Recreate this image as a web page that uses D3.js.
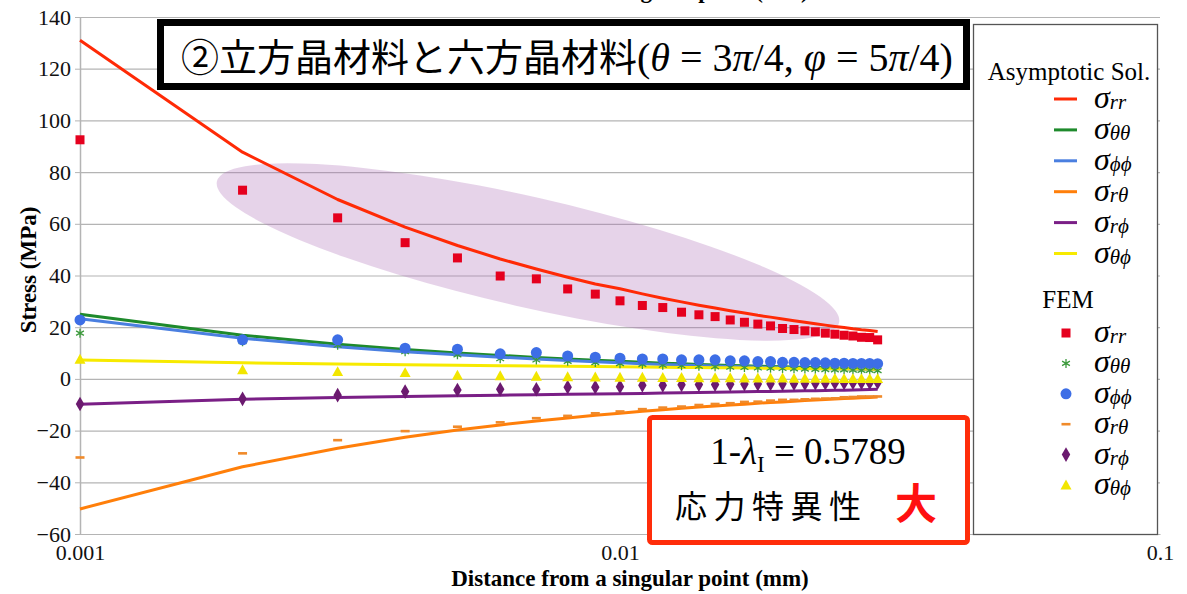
<!DOCTYPE html>
<html>
<head>
<meta charset="utf-8">
<script src="https://cdn.jsdelivr.net/npm/d3@7"></script>
<style>
  html, body { margin: 0; padding: 0; background: #fff; }
  svg { display: block; }
</style>
</head>
<body>
<svg id="chart" width="1187" height="594"></svg>
<script>
// Distance from the singular point (mm)
const distances = [0.001, 0.002, 0.003, 0.004, 0.005, 0.006, 0.007, 0.008, 0.009, 0.010,
                   0.011, 0.012, 0.013, 0.014, 0.015, 0.016, 0.017, 0.018, 0.019, 0.020,
                   0.021, 0.022, 0.023, 0.024, 0.025, 0.026, 0.027, 0.028, 0.029, 0.030];

const yTicks = [-60, -40, -20, 0, 20, 40, 60, 80, 100, 120, 140];
const xTicks = [0.001, 0.01, 0.1];
const xTickLabels = ["0.001", "0.01", "0.1"];

// Asymptotic solution (MPa)
const asymRR = [131, 87.7, 69.4, 58.7, 51.6, 46.4, 42.5, 39.3, 36.7, 34.9, 32.9, 31.2, 29.8, 28.5, 27.4,
                26.4, 25.5, 24.6, 23.9, 23.2, 22.5, 21.9, 21.3, 20.8, 20.3, 19.9, 19.4, 19.0, 18.7, 18.3];
const asymTT = [25.0, 16.9, 13.4, 11.4, 10.0, 9.1, 8.3, 7.7, 7.2, 6.8, 6.4, 6.1, 5.9, 5.6, 5.4,
                5.2, 5.1, 4.9, 4.8, 4.7, 4.6, 4.5, 4.4, 4.3, 4.2, 4.1, 4.1, 4.0, 4.0, 3.9];
const asymPP = [23.3, 15.7, 12.4, 10.5, 9.3, 8.4, 7.7, 7.1, 6.6, 6.2, 5.9, 5.6, 5.4, 5.2, 5.0,
                4.8, 4.7, 4.6, 4.4, 4.3, 4.2, 4.1, 4.0, 3.9, 3.9, 3.8, 3.7, 3.7, 3.6, 3.6];
const asymRT = [-50.3, -34.0, -26.8, -22.6, -19.8, -17.8, -16.3, -15.1, -14.1, -13.3, -12.5, -11.9, -11.4, -10.9, -10.5,
                -10.1, -9.8, -9.4, -9.1, -8.9, -8.6, -8.4, -8.2, -8.0, -7.8, -7.6, -7.5, -7.3, -7.2, -7.0];
const asymRP = [-9.8, -7.9, -7.2, -6.8, -6.5, -6.3, -6.1, -5.9, -5.8, -5.7, -5.6, -5.5, -5.4, -5.3, -5.2,
                -5.1, -5.0, -4.9, -4.9, -4.8, -4.7, -4.6, -4.6, -4.5, -4.4, -4.4, -4.3, -4.2, -4.1, -4.0];
const asymTP = [7.3, 6.2, 5.8, 5.5, 5.3, 5.1, 5.0, 4.9, 4.8, 4.7, 4.6, 4.5, 4.4, 4.4, 4.3,
                4.3, 4.2, 4.2, 4.1, 4.1, 4.0, 4.0, 3.9, 3.9, 3.9, 3.8, 3.8, 3.8, 3.7, 3.7];

// FEM results (MPa)
const femRR = [92.5, 73.0, 62.3, 52.7, 46.8, 39.8, 38.7, 34.8, 32.8, 30.2, 28.4, 27.6, 25.8, 24.8, 24.1,
               22.8, 21.9, 21.2, 20.5, 19.5, 19.1, 18.6, 18.2, 17.7, 17.3, 16.9, 16.6, 16.1, 16.0, 15.1];
const femTT = [17.7, 14.4, 13.0, 10.5, 9.3, 7.8, 7.3, 6.8, 6.3, 5.9, 5.6, 5.3, 5.1, 4.9, 4.7,
               4.5, 4.4, 4.2, 4.1, 4.0, 3.9, 3.8, 3.7, 3.6, 3.5, 3.5, 3.4, 3.3, 3.3, 3.2];
const femPP = [22.8, 15.1, 15.1, 11.9, 11.5, 9.7, 10.2, 8.9, 8.4, 8.0, 7.7, 7.7, 7.4, 7.4, 7.4,
               7.0, 7.0, 6.7, 6.7, 6.4, 6.4, 6.3, 6.3, 6.2, 6.1, 6.1, 6.0, 6.0, 6.0, 5.9];
const femRT = [-30.4, -28.8, -23.7, -20.2, -18.5, -16.8, -15.2, -14.3, -13.3, -12.6, -11.7, -11.1, -10.7, -10.1, -9.7,
               -9.4, -8.9, -8.8, -8.4, -8.1, -8.1, -7.9, -7.7, -7.6, -7.5, -7.1, -7.0, -6.8, -6.8, -6.8];
const femRP = [-9.7, -7.7, -6.3, -4.9, -4.3, -4.0, -4.0, -3.2, -3.2, -3.0, -2.5, -2.5, -2.3, -2.2, -2.2,
               -2.1, -2.0, -2.0, -1.9, -1.9, -1.8, -1.8, -1.7, -1.7, -1.6, -1.6, -1.5, -1.5, -1.5, -1.4];
const femTP = [7.6, 3.5, 2.8, 2.4, 1.4, 1.2, 1.0, 0.8, 0.7, 0.6, 0.6, 0.5, 0.5, 0.4, 0.4,
               0.4, 0.3, 0.3, 0.3, 0.3, 0.2, 0.2, 0.2, 0.2, 0.2, 0.1, 0.1, 0.1, 0.1, 0.1];

const components = ["rr", "θθ", "ϕϕ", "rθ", "rϕ", "θϕ"];
const asymSeries = [asymRR, asymTT, asymPP, asymRT, asymRP, asymTP];
const femSeries = [femRR, femTT, femPP, femRT, femRP, femTP];

const lineColors = ["#ff2a06", "#1e8a2c", "#4a7fe0", "#ff7f0a", "#7a1f86", "#f7ea00"];
const markerColors = ["#e5001e", "#3c9a3c", "#3d6ee6", "#f08a2a", "#6b1a6f", "#f2e600"];
const markerTypes = ["square", "asterisk", "circle", "dash", "diamond", "triangle"];

const SERIF = "'Liberation Serif', 'Times New Roman', serif";
const CJK = "'Noto Sans CJK JP', 'Noto Sans CJK SC', sans-serif";

const svg = d3.select("#chart");

const plot = { left: 80, right: 1160, top: 17, bottom: 534 };

const x = d3.scaleLog().domain([0.001, 0.1]).range([plot.left, plot.right]);
const y = d3.scaleLinear().domain([-60, 140]).range([plot.bottom, plot.top]);

// Clipped heading left over above the plot
svg.append("text")
  .attr("x", 630).attr("y", -2)
  .attr("text-anchor", "middle")
  .attr("font-family", SERIF).attr("font-weight", "bold").attr("font-size", 23)
  .text("Distance from a singular point (mm)");

// Horizontal gridlines
svg.append("g")
  .attr("transform", `translate(${plot.left},0)`)
  .call(d3.axisLeft(y).tickValues(yTicks).tickSize(-(plot.right - plot.left)).tickFormat(""))
  .call(g => g.select(".domain").remove())
  .call(g => g.selectAll("line").attr("stroke", "#b4b4b4").attr("stroke-width", 1.2));

// Y axis with labels
svg.append("g")
  .attr("transform", `translate(${plot.left},0)`)
  .call(d3.axisLeft(y).tickValues(yTicks).tickSize(5).tickPadding(4).tickSizeOuter(0))
  .call(g => g.select(".domain").attr("stroke", "#b4b4b4").attr("stroke-width", 1.5))
  .call(g => g.selectAll("line").attr("stroke", "#b4b4b4"))
  .call(g => g.selectAll("text")
    .attr("font-family", SERIF).attr("font-size", 22).attr("fill", "#111"));

// X axis with labels
svg.append("g")
  .attr("transform", `translate(0,${plot.bottom})`)
  .call(d3.axisBottom(x).tickValues(xTicks).tickSize(0).tickPadding(10)
    .tickFormat((d, i) => xTickLabels[i]))
  .call(g => g.select(".domain").attr("stroke", "#b4b4b4").attr("stroke-width", 1.2))
  .call(g => g.selectAll("text")
    .attr("font-family", SERIF).attr("font-size", 22).attr("fill", "#111"));

// Axis titles
svg.append("text")
  .attr("x", 630).attr("y", 586)
  .attr("text-anchor", "middle")
  .attr("font-family", SERIF).attr("font-weight", "bold").attr("font-size", 23)
  .text("Distance from a singular point (mm)");

svg.append("text")
  .attr("transform", "translate(36,270) rotate(-90)")
  .attr("text-anchor", "middle")
  .attr("font-family", SERIF).attr("font-weight", "bold").attr("font-size", 23)
  .text("Stress (MPa)");

// Highlight around the σrr FEM points
svg.append("ellipse")
  .attr("cx", 528).attr("cy", 252).attr("rx", 319).attr("ry", 55)
  .attr("transform", "rotate(12.8,528,252)")
  .attr("fill", "rgba(172,108,182,0.30)");

// Asymptotic solution curves
const line = d3.line().x((d, i) => x(distances[i])).y(d => y(d));
asymSeries.forEach((vals, k) => {
  svg.append("path")
    .datum(vals)
    .attr("d", line)
    .attr("fill", "none")
    .attr("stroke", lineColors[k])
    .attr("stroke-width", 3)
    .attr("stroke-linejoin", "round");
});

// Marker drawing
function drawMarker(sel, type, color, scale) {
  const s = scale || 1;
  if (type === "square") {
    sel.append("rect").attr("x", -4.5 * s).attr("y", -4.5 * s).attr("width", 9 * s).attr("height", 9 * s)
      .attr("fill", color);
  } else if (type === "circle") {
    sel.append("circle").attr("r", 5.5 * s).attr("fill", color);
  } else if (type === "diamond") {
    sel.append("path").attr("d", d3.symbol(d3.symbolDiamond, 62 * s * s)()).attr("fill", color);
  } else if (type === "triangle") {
    const h = 5.5 * s;
    sel.append("path").attr("d", `M0,${-h}L${h},${h * 0.8}L${-h},${h * 0.8}Z`).attr("fill", color);
  } else if (type === "dash") {
    sel.append("rect").attr("x", -4.5 * s).attr("y", -1.3 * s).attr("width", 9 * s).attr("height", 2.6 * s)
      .attr("fill", color);
  } else if (type === "asterisk") {
    const r = 4.5 * s;
    sel.append("path")
      .attr("d", `M0,${-r}V${r}M${-r * 0.87},${-r * 0.5}L${r * 0.87},${r * 0.5}M${-r * 0.87},${r * 0.5}L${r * 0.87},${-r * 0.5}`)
      .attr("stroke", color).attr("stroke-width", 1.3).attr("fill", "none");
  }
}

// FEM markers
femSeries.forEach((vals, k) => {
  const g = svg.append("g");
  g.selectAll("g").data(vals).join("g")
    .attr("transform", (d, i) => `translate(${x(distances[i])},${y(d)})`)
    .each(function () { drawMarker(d3.select(this), markerTypes[k], markerColors[k]); });
});

// Title box
svg.append("rect")
  .attr("x", 160.5).attr("y", 22.5).attr("width", 806).attr("height", 64)
  .attr("fill", "#fff").attr("stroke", "#000").attr("stroke-width", 7);

const title = svg.append("text").attr("x", 181).attr("y", 71);
title.append("tspan").attr("font-family", CJK).attr("font-size", 38).text("②立方晶材料と六方晶材料");
const tSerif = (txt, italic) => title.append("tspan").attr("font-family", SERIF).attr("font-size", 40)
  .attr("font-style", italic ? "italic" : "normal").text(txt);
tSerif("(", false); tSerif("θ", true); tSerif(" = 3", false); tSerif("π", true); tSerif("/4, ", false);
tSerif("φ", true); tSerif(" = 5", false); tSerif("π", true); tSerif("/4)", false);

// Legend
svg.append("rect")
  .attr("x", 973.5).attr("y", 24.5).attr("width", 184).attr("height", 510)
  .attr("fill", "#fff").attr("stroke", "#555").attr("stroke-width", 1.3);

svg.append("text")
  .attr("x", 1069).attr("y", 80).attr("text-anchor", "middle")
  .attr("font-family", SERIF).attr("font-size", 25).text("Asymptotic Sol.");

function sigmaLabel(xp, yp, sub) {
  const t = svg.append("text").attr("x", xp).attr("y", yp)
    .attr("font-family", SERIF).attr("font-style", "italic");
  t.append("tspan").attr("font-size", 32).text("σ");
  t.append("tspan").attr("font-size", 21).attr("dy", 1).text(sub);
}

components.forEach((c, k) => {
  const yy = 99 + k * 30.9;
  svg.append("line")
    .attr("x1", 1054).attr("x2", 1077).attr("y1", yy).attr("y2", yy)
    .attr("stroke", lineColors[k]).attr("stroke-width", 3);
  sigmaLabel(1094, yy + 9, c);
});

svg.append("text")
  .attr("x", 1068).attr("y", 308).attr("text-anchor", "middle")
  .attr("font-family", SERIF).attr("font-size", 25).text("FEM");

components.forEach((c, k) => {
  const yy = 333 + k * 30.4;
  const g = svg.append("g").attr("transform", `translate(1066,${yy})`);
  drawMarker(g, markerTypes[k], markerColors[k]);
  sigmaLabel(1094, yy + 9, c);
});

// Singularity annotation box
svg.append("rect")
  .attr("x", 649.5).attr("y", 417.5).attr("width", 318).attr("height", 125).attr("rx", 3)
  .attr("fill", "#fff").attr("stroke", "#ff2d0a").attr("stroke-width", 5);

const lam = svg.append("text").attr("x", 808).attr("y", 464).attr("text-anchor", "middle")
  .attr("font-family", SERIF).attr("font-size", 37);
lam.append("tspan").text("1-");
lam.append("tspan").attr("font-style", "italic").text("λ");
lam.append("tspan").attr("font-size", 23).attr("dy", 8).text("I");
lam.append("tspan").attr("dy", -8).text(" = 0.5789");

svg.append("text").attr("x", 675).attr("y", 518)
  .attr("font-family", CJK).attr("font-size", 32).attr("letter-spacing", 6.5)
  .text("応力特異性");
svg.append("text").attr("x", 895).attr("y", 519)
  .attr("font-family", CJK).attr("font-size", 42).attr("font-weight", "bold").attr("fill", "#ff1010")
  .text("大");
</script>
</body>
</html>
